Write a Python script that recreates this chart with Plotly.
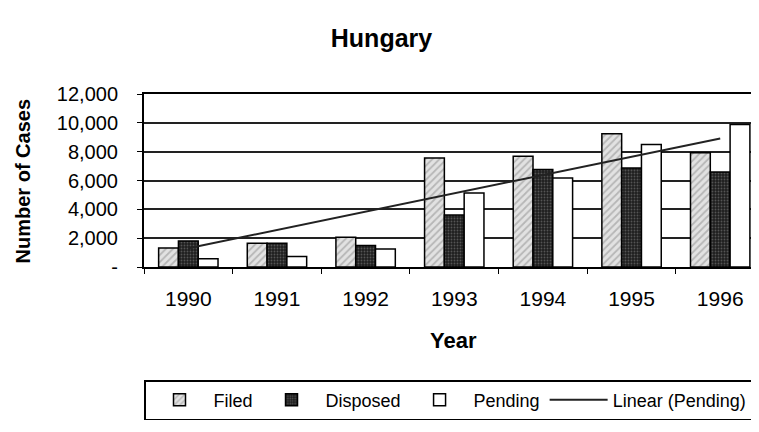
import plotly.graph_objects as go

# data
years = ["1990", "1991", "1992", "1993", "1994", "1995", "1996"]
filed = [1310, 1650, 2070, 7560, 7680, 9240, 7930]
disposed = [1810, 1650, 1490, 3600, 6760, 6870, 6590]
pending = [570, 730, 1240, 5140, 6180, 8500, 9880]
# trend line end points as drawn in the reference
trend_years = ["1990", "1996"]
trend_values = [1300, 8920]

y_ticks = [0, 2000, 4000, 6000, 8000, 10000, 12000]
y_tick_text = ["-", "2,000", "4,000", "6,000", "8,000", "10,000", "12,000"]

FONT = "Liberation Sans, Arial, sans-serif"

fig = go.Figure()

fig.add_trace(go.Bar(
    x=years, y=filed, name="Filed",
    marker=dict(color="#e2e2e2", line=dict(color="black", width=1.5),
                pattern=dict(shape="/", fgcolor="#8a8a8a", bgcolor="#e2e2e2",
                             size=5, solidity=0.35)),
))
fig.add_trace(go.Bar(
    x=years, y=disposed, name="Disposed",
    marker=dict(color="#2a2a2a", line=dict(color="black", width=1.5),
                pattern=dict(shape=".", fgcolor="#8a8a8a", bgcolor="#1e1e1e",
                             size=3, solidity=0.3)),
))
fig.add_trace(go.Bar(
    x=years, y=pending, name="Pending",
    marker=dict(color="white", line=dict(color="black", width=1.5)),
))
fig.add_trace(go.Scatter(
    x=trend_years, y=trend_values, name="Linear (Pending)",
    mode="lines", line=dict(color="#222", width=2),
))

# page body has an 8px margin, so the figure is a bit smaller than the window
fig.update_layout(
    width=751, height=424,
    margin=dict(l=136, r=4, t=86, b=165),
    paper_bgcolor="white", plot_bgcolor="white",
    font=dict(family=FONT, color="black", size=20),
    barmode="group", bargap=0.33, bargroupgap=0,
    title=dict(text="<b>Hungary</b>", x=0.39, xref="paper", xanchor="center",
               y=0.929, yref="container", yanchor="middle",
               font=dict(size=25, family=FONT)),
    showlegend=True,
    legend=dict(orientation="h", x=0.5, xanchor="center", xref="paper",
                y=-0.769, yanchor="middle", yref="paper",
                bordercolor="black", borderwidth=1.5, bgcolor="white",
                font=dict(size=18, family=FONT), itemwidth=58,
                traceorder="normal", tracegroupgap=0),
)

fig.update_xaxes(
    type="category", range=[-0.5, 6.37],
    showline=True, linecolor="black", linewidth=2, mirror=True,
    ticks="outside", tickson="boundaries", ticklen=5, tickcolor="black",
    ticklabelstandoff=12, tickfont=dict(size=21),
    showgrid=False,
)
fig.update_yaxes(
    range=[0, 12000], tickvals=y_ticks, ticktext=y_tick_text,
    showline=True, linecolor="black", linewidth=2, mirror=True,
    ticks="outside", ticklen=5, tickcolor="black", ticklabelstandoff=15,
    tickfont=dict(size=20),
    showgrid=True, gridcolor="#222", gridwidth=1.5, zeroline=False,
)

fig.add_annotation(text="<b>Number of Cases</b>", textangle=-90,
                   x=-0.198, y=0.497, xref="paper", yref="paper",
                   xanchor="center", yanchor="middle",
                   showarrow=False, font=dict(size=20, family=FONT))
fig.add_annotation(text="<b>Year</b>", x=0.509, y=-0.422,
                   xref="paper", yref="paper", xanchor="center",
                   yanchor="middle", showarrow=False,
                   font=dict(size=22, family=FONT))

fig.write_html("out.html")
